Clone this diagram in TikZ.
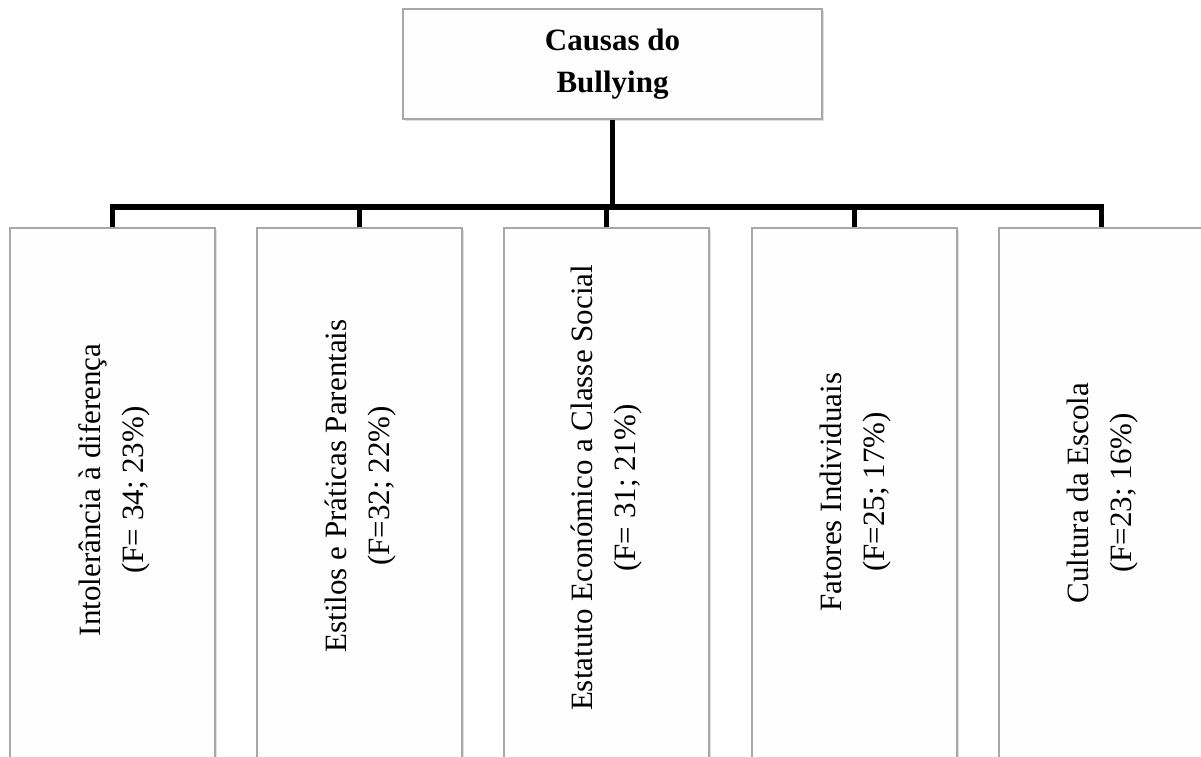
\documentclass[tikz,border=0pt]{standalone}
\usepackage{fontspec}
\setmainfont{Liberation Serif}
\usetikzlibrary{shadows}

\definecolor{boxgray}{HTML}{A8A8A8}
\definecolor{boxfill}{HTML}{FEFEFE}

\tikzset{
    causebox/.style={draw=boxgray, line width=0.7pt, fill=boxfill, inner sep=0pt,
        drop shadow={shadow xshift=0.8pt, shadow yshift=-0.8pt, opacity=0.25}},
    causetext/.style={rotate=90, align=center, font=\fontsize{15.5}{21.5}\selectfont},
    link/.style={line width=2.6pt, line join=miter}
}

\begin{document}
\begin{tikzpicture}[x=0.5pt, y=-0.5pt]
    \useasboundingbox (0,0) rectangle (1201,756);
    \clip (0,0) rectangle (1201,756);

    \node[causebox, minimum width=209.5pt, minimum height=55pt, align=center,
        font=\fontsize{15.5}{21}\selectfont\bfseries] (causas) at (612.5,64) {Causas do\\Bullying};

    \node[causebox, minimum width=102.5pt, minimum height=276pt] (c1) at (112.5,504) {};
    \node[causebox, minimum width=102.5pt, minimum height=276pt] (c2) at (359.5,504) {};
    \node[causebox, minimum width=102.5pt, minimum height=276pt] (c3) at (606.5,504) {};
    \node[causebox, minimum width=102.5pt, minimum height=276pt] (c4) at (854.5,504) {};
    \node[causebox, minimum width=102.5pt, minimum height=276pt] (c5) at (1101.5,504) {};

    \node[causetext] (t1) at (114,490) {Intolerância à diferença\\(F= 34; 23\%)};
    \node[causetext] (t2) at (361,486) {Estilos e Práticas Parentais\\(F=32; 22\%)};
    \node[causetext] (t3) at (607,488) {Estatuto Económico a Classe Social\\(F= 31; 21\%)};
    \node[causetext] (t4) at (856,492) {Fatores Individuais\\(F=25; 17\%)};
    \node[causetext] (t5) at (1103,493) {Cultura da Escola\\(F=23; 16\%)};

    \coordinate (hub) at (612.5,207);
    \draw[link] (causas.south) -- (hub);
    \draw[link] (c1.north) |- (hub) -| (c5.north);
    \draw[link] (c2.north) -- (c2.north |- hub);
    \draw[link] (c3.north) -- (c3.north |- hub);
    \draw[link] (c4.north) -- (c4.north |- hub);
\end{tikzpicture}
\end{document}
